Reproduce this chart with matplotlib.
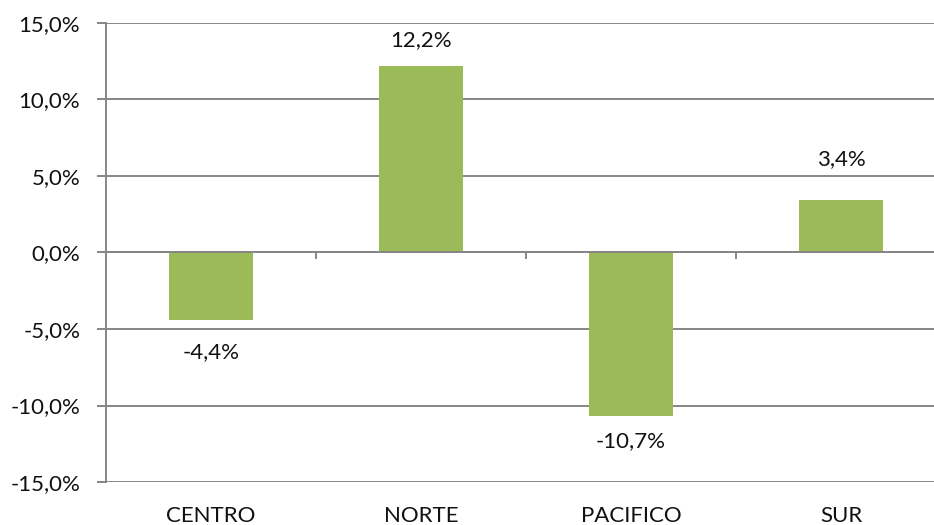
import matplotlib
matplotlib.use('Agg')
import matplotlib.pyplot as plt
from matplotlib.ticker import FuncFormatter, FixedLocator

plt.rcParams['font.family'] = ['Lato', 'DejaVu Sans']

regions = ['CENTRO', 'NORTE', 'PACIFICO', 'SUR']
growth = [-4.4, 12.2, -10.7, 3.4]
y_ticks = [-15, -10, -5, 0, 5, 10, 15]

bar_color = '#9BBB59'
line_color = '#868686'
# label distance from the bar end, in points (labels were placed by hand)
label_offsets = [-23.5, 18.5, -18, 30]

fig = plt.figure(figsize=(9.34, 5.25), dpi=100)
# plot area runs slightly past the right edge, like the original
ax = fig.add_axes([106 / 934, 1 - 482 / 525, 840 / 934, 459 / 525])

x = list(range(len(regions)))
ax.bar(x, growth, width=0.4, color=bar_color, zorder=3)

ax.set_xlim(-0.5, len(regions) - 0.5)
ax.set_ylim(-15, 15)
ax.set_yticks(y_ticks)
ax.yaxis.set_major_formatter(FuncFormatter(lambda v, p: f'{v:.1f}%'.replace('.', ',')))
ax.grid(axis='y', color=line_color, linewidth=1.4, zorder=1)
ax.tick_params(axis='y', length=6.5, width=1.4, color=line_color, pad=12,
               labelsize=16, labelcolor='#111111')

# horizontal axis line at zero with tick marks between categories
for s in ['top', 'right']:
    ax.spines[s].set_visible(False)
ax.spines['left'].set_color(line_color)
ax.spines['left'].set_linewidth(1.4)
ax.spines['bottom'].set_position(('data', 0))
ax.spines['bottom'].set_color(line_color)
ax.spines['bottom'].set_linewidth(1.4)
ax.spines['bottom'].set_zorder(4)
ax.set_xticks(x)
ax.set_xticklabels([])
ax.xaxis.set_minor_locator(FixedLocator([i + 0.5 for i in x[:-1]]))
ax.tick_params(axis='x', which='major', length=0)
ax.tick_params(axis='x', which='minor', length=5, width=1.4, color=line_color, direction='out')

# category labels at the bottom
sec = ax.secondary_xaxis('bottom')
sec.set_xticks(x)
sec.set_xticklabels(regions)
sec.spines['bottom'].set_visible(False)
sec.tick_params(length=0, pad=17, labelsize=16, labelcolor='#111111')

for xi, v, off in zip(x, growth, label_offsets):
    label = f'{v:.1f}%'.replace('.', ',')
    ax.annotate(label, (xi, v), xytext=(0, off), textcoords='offset points',
                ha='center', va='center', fontsize=16, color='#111111')

fig.savefig('out.png', dpi=100)
